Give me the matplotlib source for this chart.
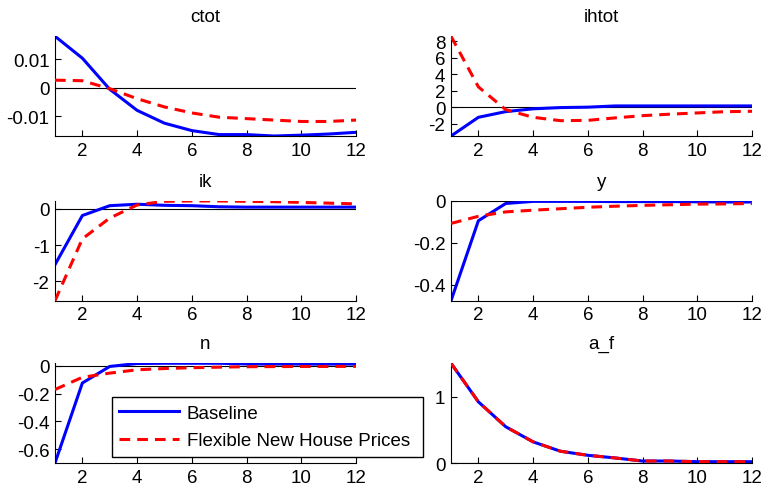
import matplotlib
matplotlib.use('Agg')
import matplotlib.pyplot as plt
import numpy as np

plt.rcParams['font.family'] = ['Liberation Sans', 'DejaVu Sans']
plt.rcParams['font.size'] = 13.5

periods = np.arange(1, 13)

# impulse responses
ctot_base = [0.0181, 0.0104, -0.0005, -0.0079, -0.0124, -0.0150, -0.0164, -0.0164, -0.0169, -0.0166, -0.0162, -0.0156]
ctot_flex = [0.0027, 0.0025, -0.0003, -0.0038, -0.0067, -0.0088, -0.0103, -0.0108, -0.0113, -0.0118, -0.0118, -0.0113]
ihtot_base = [-3.5, -1.23, -0.54, -0.2, -0.05, 0.0, 0.15, 0.15, 0.15, 0.15, 0.15, 0.15]
ihtot_flex = [8.6, 2.46, -0.3, -1.23, -1.64, -1.6, -1.3, -1.03, -0.85, -0.7, -0.55, -0.5]
ik_base = [-1.54, -0.19, 0.08, 0.12, 0.09, 0.08, 0.05, 0.04, 0.04, 0.04, 0.04, 0.04]
ik_flex = [-2.53, -0.83, -0.26, 0.1, 0.2, 0.21, 0.21, 0.2, 0.19, 0.17, 0.15, 0.13]
y_base = [-0.475, -0.094, -0.012, -0.002, -0.002, -0.002, -0.003, -0.003, -0.003, -0.004, -0.005, -0.005]
y_flex = [-0.107, -0.073, -0.052, -0.044, -0.037, -0.030, -0.025, -0.021, -0.018, -0.015, -0.014, -0.012]
n_base = [-0.70, -0.124, -0.005, 0.016, 0.018, 0.018, 0.018, 0.013, 0.012, 0.012, 0.012, 0.012]
n_flex = [-0.171, -0.083, -0.053, -0.029, -0.020, -0.014, -0.010, -0.007, -0.006, -0.005, -0.005, -0.004]
af_base = [1.5, 0.92, 0.545, 0.318, 0.177, 0.116, 0.076, 0.03, 0.03, 0.02, 0.02, 0.02]
af_flex = [1.5, 0.92, 0.545, 0.318, 0.177, 0.116, 0.076, 0.03, 0.03, 0.02, 0.02, 0.02]

panels = [
    ('ctot', ctot_base, ctot_flex, [-0.01, 0, 0.01], ['-0.01', '0', '0.01']),
    ('ihtot', ihtot_base, ihtot_flex, [-2, 0, 2, 4, 6, 8], ['-2', '0', '2', '4', '6', '8']),
    ('ik', ik_base, ik_flex, [-2, -1, 0], ['-2', '-1', '0']),
    ('y', y_base, y_flex, [-0.4, -0.2, 0], ['-0.4', '-0.2', '0']),
    ('n', n_base, n_flex, [-0.6, -0.4, -0.2, 0], ['-0.6', '-0.4', '-0.2', '0']),
    ('a_f', af_base, af_flex, [0, 1], ['0', '1']),
]

fig = plt.figure(figsize=(7.66, 4.89), dpi=100)
lefts = [0.0718, 0.5888]
bottoms = [0.7198, 0.383, 0.0511]
width = 0.393
height = 0.204

for i, (name, base, flex, yt, ytl) in enumerate(panels):
    ax = fig.add_axes([lefts[i % 2], bottoms[i // 2], width, height])
    ax.axhline(0, color='black', linewidth=0.8, zorder=1)
    hb, = ax.plot(periods, base, color='blue', linewidth=2.2, label='Baseline', zorder=2)
    hf, = ax.plot(periods, flex, color='red', linewidth=2.2, dashes=(3.5, 2.3),
                  label='Flexible New House Prices', zorder=3)
    lo = min(min(base), min(flex))
    hi = max(max(base), max(flex))
    ax.set_xlim(1, 12)
    ax.set_ylim(lo, hi)
    ax.set_xticks([2, 4, 6, 8, 10, 12])
    ax.set_yticks(yt)
    ax.set_yticklabels(ytl)
    ax.set_title(name, fontsize=13.5, pad=11)
    ax.spines['top'].set_visible(False)
    ax.spines['right'].set_visible(False)
    ax.tick_params(direction='in', length=4, labelsize=13.5, pad=4)

fig.legend([hb, hf], ['Baseline', 'Flexible New House Prices'],
           loc='lower left', bbox_to_anchor=(0.146, 0.0634, 0.406, 0.121),
           mode='expand', frameon=True, fancybox=False, edgecolor='black',
           framealpha=1, handlelength=3.2, handletextpad=0.4, borderaxespad=0,
           borderpad=0.4, fontsize=13.5, labelspacing=0.55)
fig.legends[0].get_frame().set_linewidth(1)

fig.savefig('out.png', dpi=100)
